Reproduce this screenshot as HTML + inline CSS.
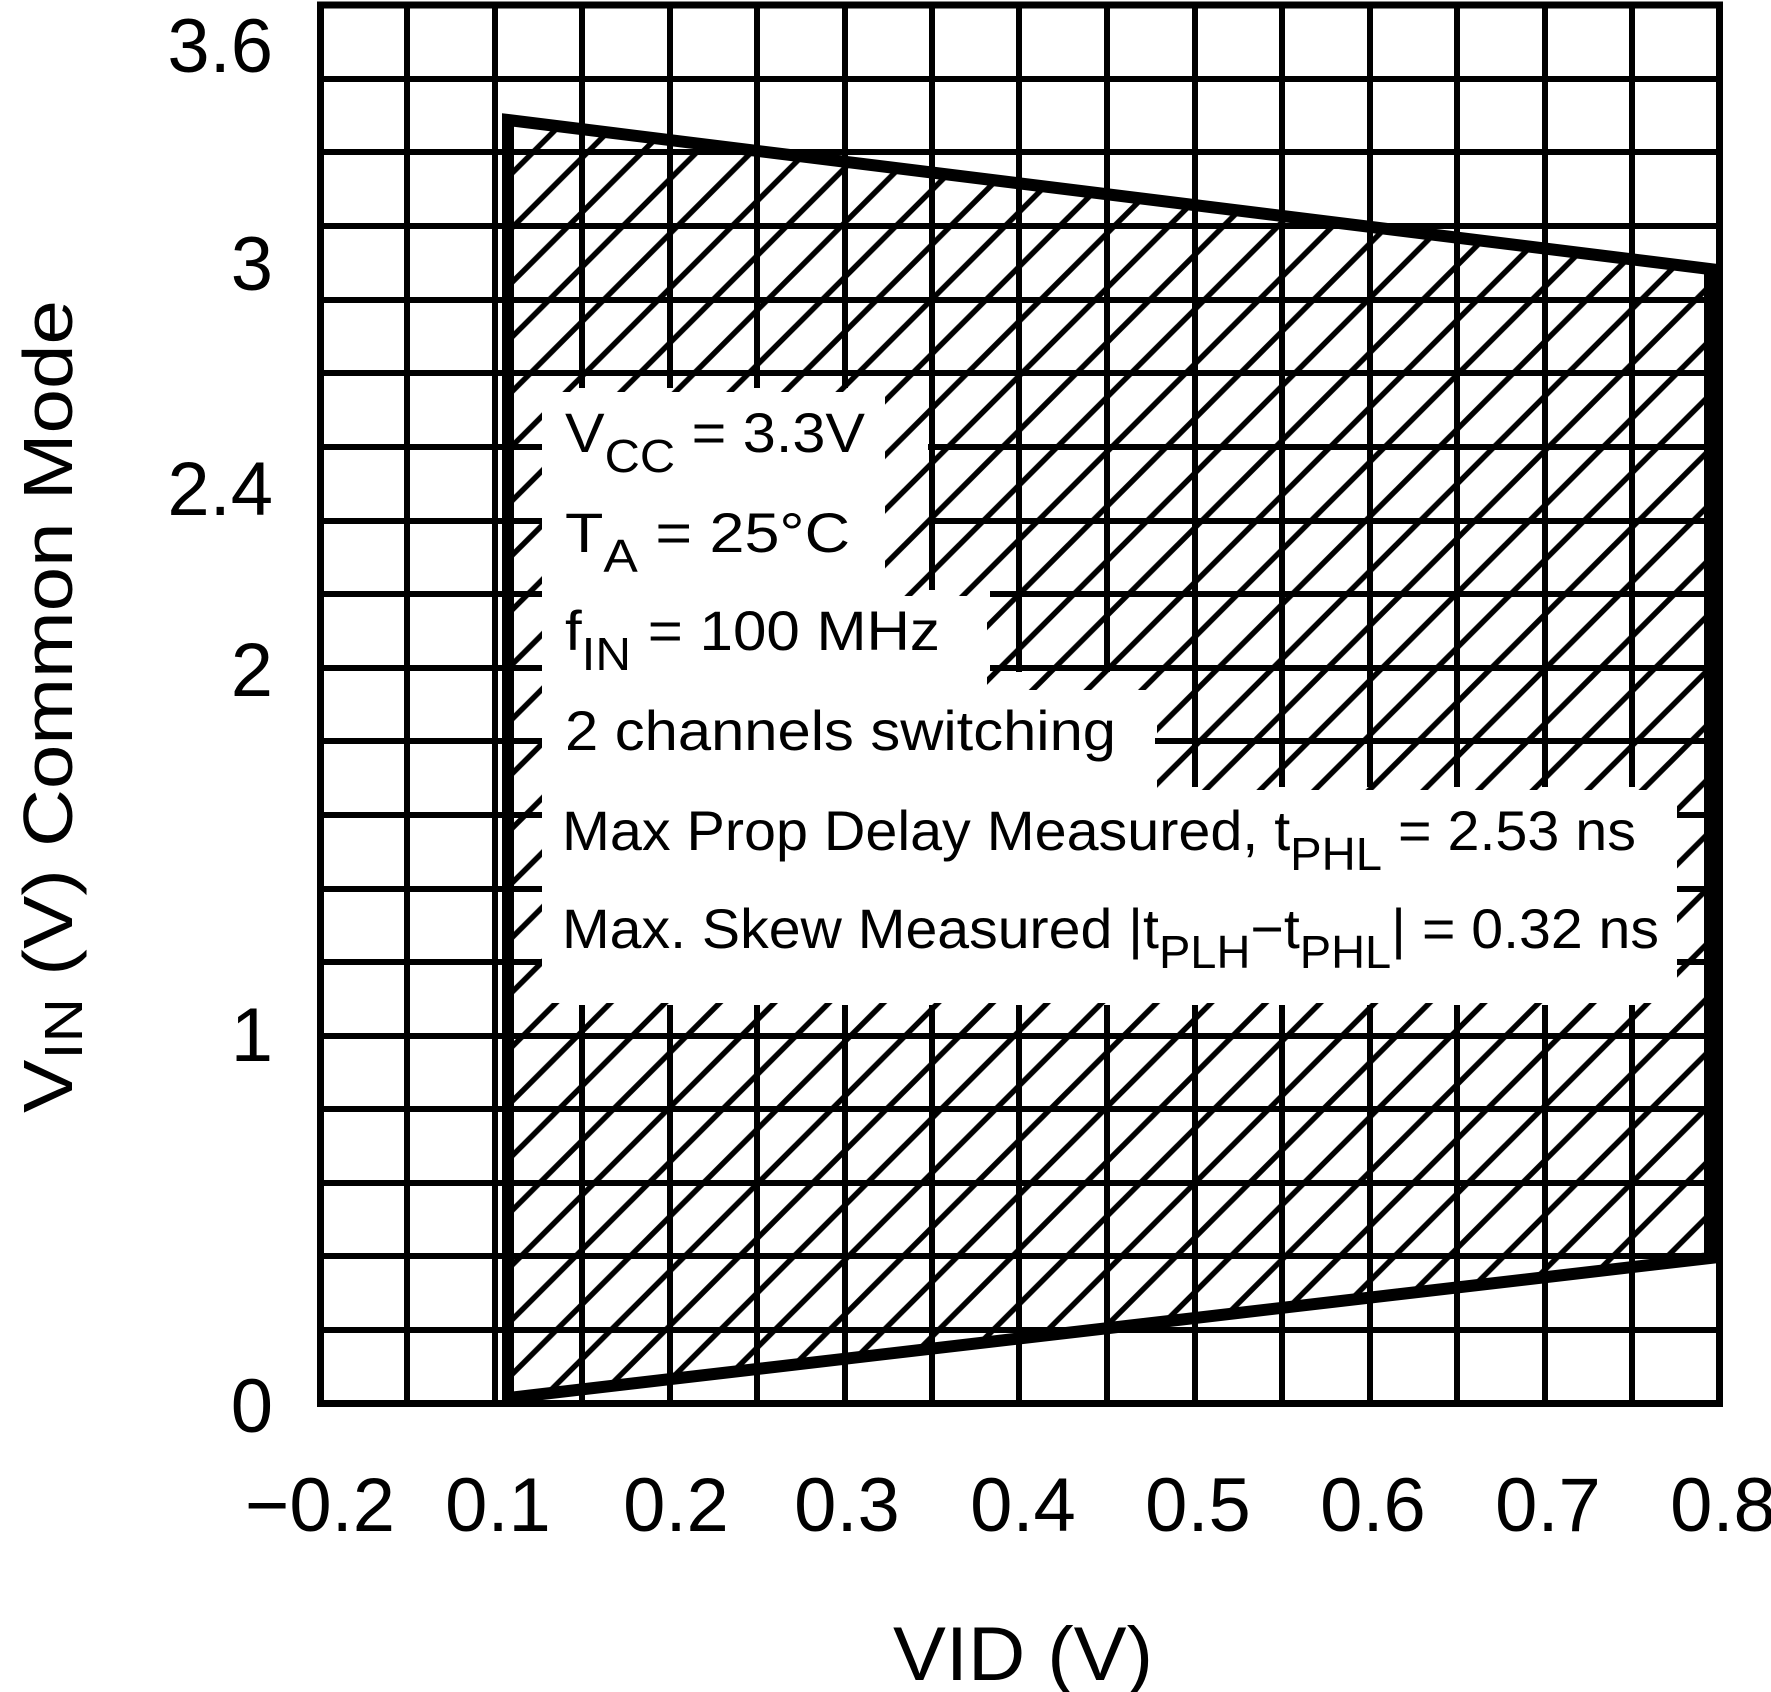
<!DOCTYPE html>
<html><head><meta charset="utf-8"><style>
html,body{margin:0;padding:0;background:#fff;}
svg{display:block;}
text{font-family:"Liberation Sans",sans-serif;fill:#000;}
</style></head><body>
<svg width="1771" height="1692" viewBox="0 0 1771 1692" xmlns="http://www.w3.org/2000/svg">
<defs>
<pattern id="h" patternUnits="userSpaceOnUse" x="30" y="0" width="54.6" height="54.6">
<line x1="-5" y1="59.6" x2="59.6" y2="-5" stroke="#000" stroke-width="5.5"/>
<line x1="-5" y1="5" x2="5" y2="-5" stroke="#000" stroke-width="5.5"/>
<line x1="49.6" y1="59.6" x2="59.6" y2="49.6" stroke="#000" stroke-width="5.5"/>
</pattern>
<clipPath id="poly"><polygon points="508,120 1710,269 1710,1258 508,1400"/></clipPath>
<mask id="hm" maskUnits="userSpaceOnUse" x="0" y="0" width="1771" height="1692">
<rect width="1771" height="1692" fill="#fff"/>
<rect x="542" y="392" width="343" height="206" fill="#000"/>
<rect x="542" y="596" width="445" height="96" fill="#000"/>
<rect x="542" y="690" width="615" height="102" fill="#000"/>
<rect x="542" y="790" width="1135" height="213" fill="#000"/>
</mask>
</defs>
<rect width="1771" height="1692" fill="#fff"/>
<!-- grid -->
<g stroke="#000" stroke-width="6">
<line x1="407" y1="5" x2="407" y2="1403"/><line x1="495" y1="5" x2="495" y2="1403"/>
<line x1="582" y1="5" x2="582" y2="1403"/><line x1="670" y1="5" x2="670" y2="1403"/>
<line x1="757" y1="5" x2="757" y2="1403"/><line x1="845" y1="5" x2="845" y2="1403"/>
<line x1="932" y1="5" x2="932" y2="1403"/><line x1="1019" y1="5" x2="1019" y2="1403"/>
<line x1="1107" y1="5" x2="1107" y2="1403"/><line x1="1195" y1="5" x2="1195" y2="1403"/>
<line x1="1282" y1="5" x2="1282" y2="1403"/><line x1="1370" y1="5" x2="1370" y2="1403"/>
<line x1="1457" y1="5" x2="1457" y2="1403"/><line x1="1545" y1="5" x2="1545" y2="1403"/>
<line x1="1632" y1="5" x2="1632" y2="1403"/>
<line x1="320" y1="79" x2="1719" y2="79"/><line x1="320" y1="152" x2="1719" y2="152"/>
<line x1="320" y1="226" x2="1719" y2="226"/><line x1="320" y1="300" x2="1719" y2="300"/>
<line x1="320" y1="373" x2="1719" y2="373"/><line x1="320" y1="447" x2="1719" y2="447"/>
<line x1="320" y1="521" x2="1719" y2="521"/><line x1="320" y1="594" x2="1719" y2="594"/>
<line x1="320" y1="668" x2="1719" y2="668"/><line x1="320" y1="741" x2="1719" y2="741"/>
<line x1="320" y1="815" x2="1719" y2="815"/><line x1="320" y1="889" x2="1719" y2="889"/>
<line x1="320" y1="962" x2="1719" y2="962"/><line x1="320" y1="1036" x2="1719" y2="1036"/>
<line x1="320" y1="1109" x2="1719" y2="1109"/><line x1="320" y1="1183" x2="1719" y2="1183"/>
<line x1="320" y1="1256" x2="1719" y2="1256"/><line x1="320" y1="1330" x2="1719" y2="1330"/>
</g>
<!-- grid mask -->
<g fill="#fff">
<rect x="542" y="388" width="386" height="212"/>
<rect x="542" y="590" width="448" height="82"/>
<rect x="542" y="672" width="613" height="115"/>
<rect x="542" y="787" width="1135" height="218"/>
</g>
<!-- hatch -->
<g mask="url(#hm)">
<rect x="500" y="100" width="1230" height="1310" fill="url(#h)" clip-path="url(#poly)"/>
</g>
<!-- frame -->
<rect x="320.5" y="5" width="1399" height="1398.5" fill="none" stroke="#000" stroke-width="7"/>
<!-- polygon outline -->
<polygon points="508,120 1710,269 1710,1258 508,1398" fill="none" stroke="#000" stroke-width="12" stroke-linejoin="miter"/>
<!-- y ticks -->
<g font-size="76" text-anchor="end">
<text x="273" y="72">3.6</text>
<text x="273" y="290">3</text>
<text x="273" y="515">2.4</text>
<text x="273" y="696">2</text>
<text x="273" y="1061">1</text>
<text x="273" y="1432">0</text>
</g>
<g font-size="76" text-anchor="middle">
<text x="320" y="1531">−0.2</text>
<text x="498" y="1531">0.1</text>
<text x="676" y="1531">0.2</text>
<text x="847" y="1531">0.3</text>
<text x="1023" y="1531">0.4</text>
<text x="1198" y="1531">0.5</text>
<text x="1373" y="1531">0.6</text>
<text x="1548" y="1531">0.7</text>
<text x="1723" y="1531">0.8</text>
</g>
<text x="893" y="1680" font-size="76" textLength="260" lengthAdjust="spacingAndGlyphs">VID (V)</text>
<text transform="translate(72,1113) rotate(-90)" font-size="70" textLength="813" lengthAdjust="spacingAndGlyphs">V<tspan font-size="54" dy="10">IN</tspan><tspan dy="-10">  (V)  Common Mode</tspan></text>
<!-- annotation -->
<g font-size="56">
<text x="565" y="452" textLength="300" lengthAdjust="spacingAndGlyphs">V<tspan font-size="46" dy="20">CC</tspan><tspan dy="-20"> = 3.3V</tspan></text>
<text x="565" y="552" textLength="285" lengthAdjust="spacingAndGlyphs">T<tspan font-size="46" dy="20">A</tspan><tspan dy="-20">  =  25°C</tspan></text>
<text x="565" y="650" textLength="375" lengthAdjust="spacingAndGlyphs">f<tspan font-size="46" dy="20">IN</tspan><tspan dy="-20">  =  100 MHz</tspan></text>
<text x="565" y="750" textLength="551" lengthAdjust="spacingAndGlyphs">2 channels switching</text>
<text x="562" y="850" textLength="1074" lengthAdjust="spacingAndGlyphs">Max Prop Delay Measured, t<tspan font-size="46" dy="20">PHL</tspan><tspan dy="-20"> = 2.53 ns</tspan></text>
<text x="562" y="948" textLength="1097" lengthAdjust="spacingAndGlyphs">Max. Skew Measured |t<tspan font-size="46" dy="20">PLH</tspan><tspan dy="-20">−t</tspan><tspan font-size="46" dy="20">PHL</tspan><tspan dy="-20">| = 0.32 ns</tspan></text>
</g>
</svg>
</body></html>
